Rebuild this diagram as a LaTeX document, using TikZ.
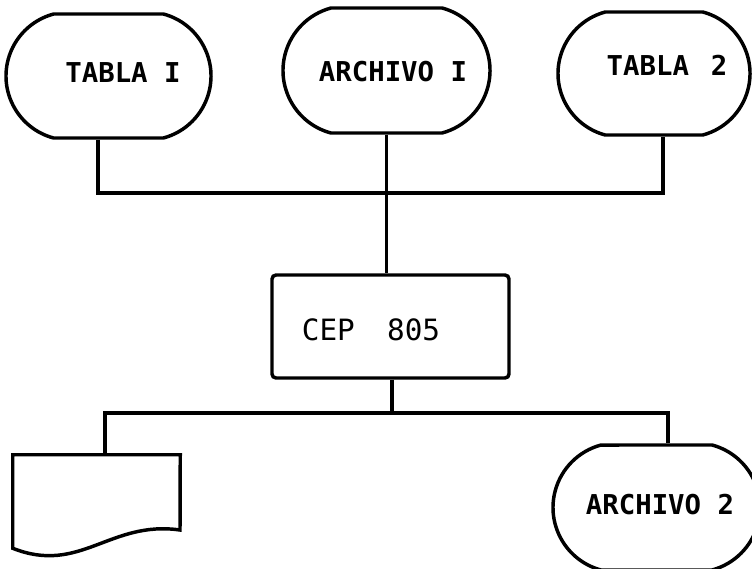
\documentclass[tikz,border=0pt]{standalone}
\usepackage{fontspec}
\newfontfamily\labfont{DejaVu Sans Mono}
\newfontfamily\labbold{DejaVu Sans Mono Bold}
\usetikzlibrary{shapes.misc}
\tikzset{
  x=0.75pt, y=-0.75pt,
  wire/.style={line width=2.6pt, line join=miter},
  term/.style={rounded rectangle, rounded rectangle arc length=150, draw, line width=2.6pt, inner sep=0pt},
  proc/.style={rectangle, draw, line width=2.6pt, rounded corners=3pt, inner sep=0pt},
  lab/.style={font=\labbold\fontsize{20.5}{22}\selectfont, inner sep=0pt},
  labr/.style={font=\labfont\fontsize{22}{24}\selectfont, inner sep=0pt},
}
\begin{document}
\begin{tikzpicture}
\clip (0,0) rectangle (752,568);
\fill[white] (0,0) rectangle (752,568);
% terminals
\node[term, minimum width=153.75pt, minimum height=93pt] (t1) at (108.5,76) {};
\node[term, minimum width=155.25pt, minimum height=93.75pt] (a1) at (386.5,70.5) {};
\node[term, minimum width=144pt, minimum height=92.25pt] (t2) at (654,73.5) {};
\node[term, minimum width=155.25pt, minimum height=93.75pt] (a2) at (656.5,507.5) {};
\node[lab] (t1l) at (123,73) {TABLA I};
\node[lab] (a1l) at (393,72) {ARCHIVO I};
\node[lab] (t2l) at (667,65) {TABLA\hspace{0.8em}2};
\node[lab] (a2l) at (660,505) {ARCHIVO 2};
% process
\node[proc, minimum width=177.75pt, minimum height=77.25pt] (cep) at (390.5,326.5) {};
\node[labr] (cepl) at (371,330) {CEP\hspace{1.1em}805};
% document
\node[minimum width=125.25pt, minimum height=69.75pt, inner sep=0pt] (doc) at (96.5,501.5) {};
\draw[wire] (doc.south west) -- (doc.north west) -- (doc.north east) -- (180,530)
  .. controls (110,520) and (80,575) .. (doc.south west) -- cycle;
% junctions
\coordinate (j1) at (98,193);
\coordinate (j2) at (663,193);
\coordinate (j4) at (105,413);
\coordinate (j5) at (668,413);
\coordinate (j3) at (392,413);
% connectors
\draw[wire] (t1.south -| j1) -- (j1) -- (j2) -- (t2.south -| j2);
\draw[wire] (a1.south) -- (a1.south |- cep.north);
\draw[wire] (cep.south -| j3) -- (j3);
\draw[wire] (doc.north -| j4) -- (j4) -- (j5) -- (a2.north -| j5);
\end{tikzpicture}
\end{document}
